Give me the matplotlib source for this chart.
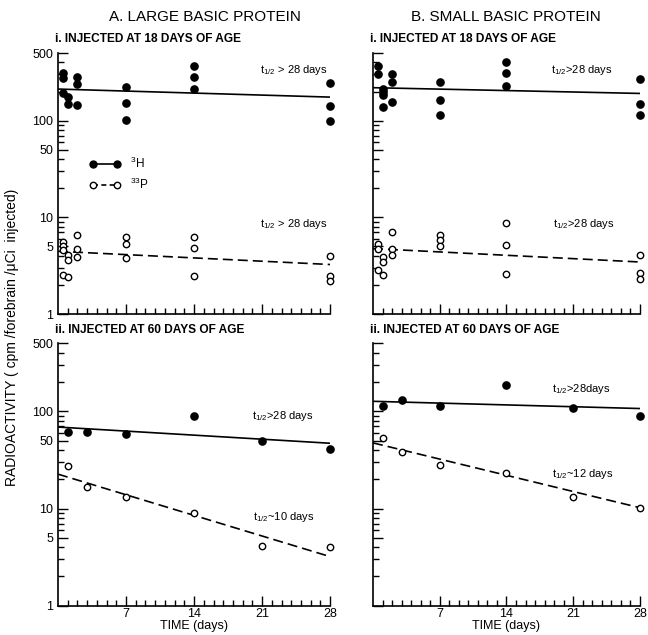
import numpy as np
import matplotlib
matplotlib.use("Agg")
import matplotlib.pyplot as plt
from matplotlib.lines import Line2D
from matplotlib.ticker import FixedLocator, NullFormatter

plt.rcParams['font.family'] = ['Liberation Sans', 'DejaVu Sans']
plt.rcParams['mathtext.fontset'] = 'custom'
plt.rcParams['mathtext.rm'] = 'Liberation Sans'
plt.rcParams['mathtext.it'] = 'Liberation Sans'

# ---- data (days, cpm/forebrain/uCi injected) ----
# A. large basic protein, i. injected at 18 days
a1_h_days = [0.5, 0.5, 0.5, 1, 1, 2, 2, 2, 7, 7, 7, 14, 14, 14, 28, 28, 28]
a1_h_vals = [314, 274, 194, 176, 150, 280, 237, 144, 224, 153, 101, 368, 281, 210, 243, 141, 99]
a1_p_days = [0.5, 0.5, 0.5, 0.5, 1, 1, 1, 2, 2, 2, 7, 7, 7, 14, 14, 14, 28, 28, 28]
a1_p_vals = [5.5, 5.0, 4.6, 2.55, 4.1, 3.65, 2.4, 6.6, 4.75, 3.9, 6.3, 5.3, 3.8, 6.3, 4.8, 2.5, 3.95, 2.5, 2.2]
a1_h_fit = [212, 175]
a1_p_fit = [4.45, 3.25]

# B. small basic protein, i. injected at 18 days
b1_h_days = [0.5, 0.5, 1, 1, 1, 1, 2, 2, 2, 7, 7, 7, 14, 14, 14, 28, 28, 28]
b1_h_vals = [368, 303, 210, 200, 182, 139, 303, 253, 157, 253, 165, 114, 399, 309, 230, 267, 150, 114]
b1_p_days = [0.5, 0.5, 0.5, 1, 1, 1, 2, 2, 2, 7, 7, 7, 14, 14, 14, 28, 28, 28]
b1_p_vals = [5.3, 4.65, 2.85, 3.9, 3.45, 2.55, 7.1, 4.75, 4.05, 6.5, 5.8, 5.0, 8.8, 5.15, 2.6, 4.1, 2.65, 2.3]
b1_h_fit = [219, 191]
b1_p_fit = [4.75, 3.45]

# ii. injected at 60 days
ii_days = [1, 3, 7, 14, 21, 28]
a2_h_vals = [61, 62, 58.5, 89, 50, 41]
a2_p_vals = [27.5, 16.5, 13.0, 9.0, 4.15, 4.0]
a2_h_fit = [69, 47]
a2_p_fit = [22.6, 3.2]
b2_h_vals = [113, 130, 113, 186, 109, 89]
b2_p_vals = [53, 38, 28.3, 23.2, 13.3, 10.1]
b2_h_fit = [127, 107]
b2_p_fit = [47.4, 10.2]

fit_days = [0, 28]

panels = [
    dict(pos=[0.0895, 0.5055, 0.42, 0.411], hd=a1_h_days, hv=a1_h_vals, pd=a1_p_days, pv=a1_p_vals,
         hf=a1_h_fit, pf=a1_p_fit, head='i. INJECTED AT 18 DAYS OF AGE', labels=True,
         notes=[(20.8, 332, r'$\mathrm{t}_{1/2}$ > 28 days'), (20.8, 8.45, r'$\mathrm{t}_{1/2}$ > 28 days')]),
    dict(pos=[0.5756, 0.5055, 0.412, 0.411], hd=b1_h_days, hv=b1_h_vals, pd=b1_p_days, pv=b1_p_vals,
         hf=b1_h_fit, pf=b1_p_fit, head='i. INJECTED AT 18 DAYS OF AGE', labels=False,
         notes=[(18.7, 334, r'$\mathrm{t}_{1/2}$>28 days'), (18.9, 8.45, r'$\mathrm{t}_{1/2}$>28 days')]),
    dict(pos=[0.0895, 0.0461, 0.42, 0.413], hd=ii_days, hv=a2_h_vals, pd=ii_days, pv=a2_p_vals,
         hf=a2_h_fit, pf=a2_p_fit, head='ii. INJECTED AT 60 DAYS OF AGE', labels=True,
         notes=[(20.0, 90, r'$\mathrm{t}_{1/2}$>28 days'), (20.1, 8.1, r'$\mathrm{t}_{1/2}$~10 days')]),
    dict(pos=[0.5756, 0.0461, 0.412, 0.413], hd=ii_days, hv=b2_h_vals, pd=ii_days, pv=b2_p_vals,
         hf=b2_h_fit, pf=b2_p_fit, head='ii. INJECTED AT 60 DAYS OF AGE', labels=False,
         notes=[(18.8, 168, r'$\mathrm{t}_{1/2}$>28days'), (18.8, 22.6, r'$\mathrm{t}_{1/2}$~12 days')]),
]

fig = plt.figure(figsize=(6.48, 6.35), dpi=100)

for k, p in enumerate(panels):
    ax = fig.add_axes(p['pos'])
    ax.set_yscale('log')
    ax.set_xlim(0, 28)
    ax.set_ylim(1, 500)
    ax.plot(p['hd'], p['hv'], 'o', color='black', ms=5.2, clip_on=False, zorder=3)
    ax.plot(p['pd'], p['pv'], 'o', mfc='white', mec='black', mew=1.0, ms=4.6, clip_on=False, zorder=3)
    ax.plot(fit_days, p['hf'], '-', color='black', lw=1.2)
    ax.plot(fit_days, p['pf'], color='black', lw=1.2, dashes=(6, 3))

    for side in ['top', 'right']:
        ax.spines[side].set_visible(False)
    for side in ['left', 'bottom']:
        ax.spines[side].set_linewidth(1.2)

    ax.xaxis.set_major_locator(FixedLocator([7, 14, 21, 28]))
    ax.xaxis.set_minor_locator(FixedLocator(range(1, 28)))
    ax.yaxis.set_major_locator(FixedLocator([1, 5, 10, 50, 100, 500]))
    ax.yaxis.set_minor_locator(FixedLocator([2, 3, 4, 6, 7, 8, 9, 20, 30, 40, 60, 70, 80, 90, 200, 300, 400]))
    ax.yaxis.set_minor_formatter(NullFormatter())
    ax.tick_params(which='major', direction='in', length=7, width=1.0, labelsize=9)
    ax.tick_params(which='minor', direction='in', length=4, width=1.0)
    ax.tick_params(axis='x', pad=1.5)
    if p['labels']:
        ax.set_yticklabels(['1', '5', '10', '50', '100', '500'])
    else:
        ax.set_yticklabels([])
    if k < 2:
        ax.set_xticklabels([])
    else:
        ax.set_xticklabels(['7', '14', '21', '28'])
        ax.set_xlabel('TIME (days)', fontsize=9, labelpad=0)

    ax.text(-0.01, 1.03, p['head'], transform=ax.transAxes, fontsize=8.6,
            fontweight='bold', ha='left', va='bottom')
    for nx, ny, s in p['notes']:
        ax.text(nx, ny, s, fontsize=8, ha='left', va='center')

    if k == 0:
        handles = [Line2D([], [], color='black', marker='o', ms=5, lw=1.2),
                   Line2D([], [], color='black', marker='o', mfc='white', ms=4.6, lw=1.2, dashes=(3, 2))]
        ax.legend(handles, [r'$^{3}$H', r'$^{33}$P'], numpoints=2, frameon=False,
                  loc=(0.1, 0.45), handlelength=2.6, fontsize=8.5, labelspacing=0.5)

fig.text(0.317, 0.973, 'A. LARGE BASIC PROTEIN', fontsize=11, ha='center', va='center')
fig.text(0.78, 0.973, 'B. SMALL BASIC PROTEIN', fontsize=11, ha='center', va='center')
fig.text(0.018, 0.469, 'RADIOACTIVITY ( cpm /forebrain /\u03bcCi  injected)', fontsize=10,
         rotation=90, ha='center', va='center')

fig.savefig('out.png', dpi=100)
